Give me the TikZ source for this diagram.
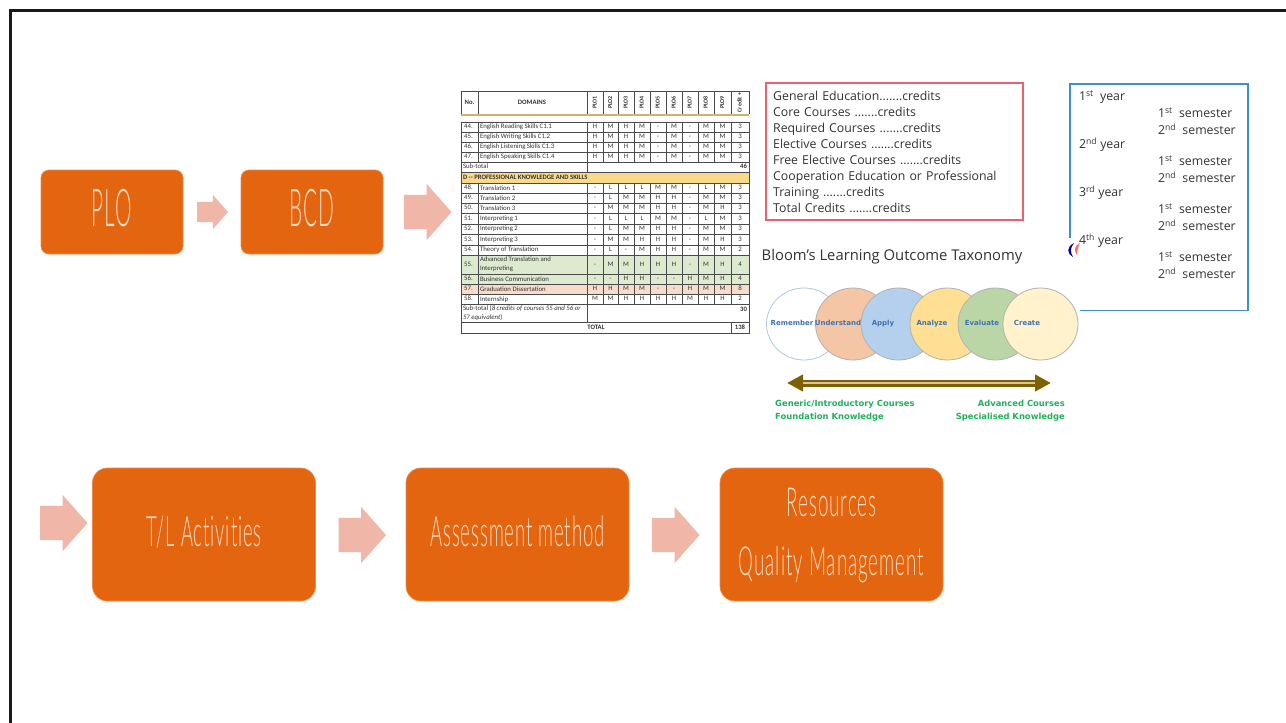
\documentclass[tikz,border=0pt]{standalone}
\usepackage{fontspec}
\usetikzlibrary{shapes.arrows,shapes.geometric,arrows.meta}
\setmainfont{Open Sans}
\newfontfamily\thinf[FakeStretch=0.40,LetterSpace=2,Ligatures=NoCommon]{Lato Light}
\newfontfamily\thinb[FakeStretch=0.47,LetterSpace=2.5,Ligatures=NoCommon]{Lato Light}
\newfontfamily\thinc[FakeStretch=0.44,LetterSpace=2.2,Ligatures=NoCommon]{Lato Light}
\newfontfamily\calf{Carlito}
\newfontfamily\verf{DejaVu Sans}
\definecolor{boxorange}{HTML}{E4650F}
\definecolor{boxedge}{HTML}{EE8A4A}
\definecolor{boxtext}{HTML}{FBDCC4}
\definecolor{arrowpink}{HTML}{F0B7A8}
\definecolor{tline}{HTML}{4A4A4A}
\definecolor{ttext}{HTML}{333333}
\definecolor{tgold}{HTML}{FBD98A}
\definecolor{tgoldline}{HTML}{CDB565}
\definecolor{tgreen}{HTML}{DCEBD0}
\definecolor{tpink}{HTML}{F8DCCB}
\definecolor{redbox}{HTML}{E8636F}
\definecolor{bluebox}{HTML}{3F8FCB}
\definecolor{bodytext}{HTML}{333333}
\definecolor{bloomblue}{HTML}{3F74B0}
\definecolor{bloomgreen}{HTML}{22B15C}
\definecolor{brownarrow}{HTML}{7F6000}
\definecolor{tanline}{HTML}{D8C898}
\newcommand{\flowtxt}[2]{\raisebox{#1pt}[0pt][0pt]{#2}}
\tikzset{
  flowbox/.style={draw=boxedge,line width=0.7,fill=boxorange,text=boxtext,inner sep=0,outer sep=0,align=center},
  smallbox/.style={flowbox,rounded corners=8,minimum width=142,minimum height=84,font=\thinf\fontsize{52}{52}\selectfont},
  bigbox/.style={flowbox,rounded corners=15,minimum width=223,minimum height=133,font=\thinc\fontsize{42}{42}\selectfont},
  blockarrow/.style={single arrow,fill=arrowpink,inner sep=0,outer sep=0,anchor=tail,single arrow head indent=0,single arrow tip angle=97,text depth=0pt},
  arrowsmall/.style={blockarrow,text height=20pt,minimum width=34,minimum height=31,single arrow head extend=7},
  arrowbig/.style={blockarrow,text height=34pt,minimum width=56,minimum height=47.5,single arrow head extend=11},
  mcell/.style={font=\calf\fontsize{6.8}{9}\selectfont,text=ttext,inner sep=0,outer sep=0,align=left},
  cell/.style={font=\calf\fontsize{6.8}{8}\selectfont,text=ttext,inner sep=0,outer sep=0,text height=4.4pt,text depth=1.2pt},
  bcell/.style={cell,font=\calf\bfseries\fontsize{6.7}{8}\selectfont},
  tblline/.style={draw=tline,line width=1},
  cred/.style={font=\fontsize{12.3}{16}\selectfont,text=bodytext,inner sep=0,outer sep=0},
  bloomc/.style={ellipse,draw=#1,line width=0.8,minimum width=75,minimum height=72,inner sep=0,outer sep=0},
  bloomlabel/.style={font=\verf\bfseries\fontsize{7}{9}\selectfont,text=bloomblue,inner sep=0,text height=5.2pt,text depth=1.4pt},
  greenlabel/.style={font=\verf\bfseries\fontsize{8.4}{13}\selectfont,text=bloomgreen,inner sep=0}
}
\def\colx{{595,610.5,626,642,658,674,690,706,722.5,740}}
\newcommand{\tverts}[2]{%
  \foreach \vx in {461,478,587,603,618,634,650,666,682,698,714,731,749}{\draw[tblline] (\vx,#1) -- (\vx,#2);}
  \draw[tblline] (461,#1) -- (749,#1) (461,#2) -- (749,#2);}
\newcommand{\trow}[6]{%
  \fill[#3] (461,#1) rectangle (749,#2);
  \tverts{#1}{#2}
  \node[cell] (no#4) at (468.5,{(#1+#2)/2}) {#4.};
  \node[mcell,anchor=west] (dom#4) at (480,{(#1+#2)/2}) {#5};
  \foreach \v [count=\i] in {#6}{
    \pgfmathsetmacro\cx{\colx[\i-1]}
    \node[cell] (v#4c\i) at (\cx,{(#1+#2)/2}) {\v};
  }}
\begin{document}
\begin{tikzpicture}[x=1pt,y=-1pt]
\useasboundingbox (0,0) rectangle (1286,723);
\fill[white] (0,0) rectangle (1286,723);
\draw[line width=3,color=black!90] (10.5,723) -- (10.5,10.5) -- (1286,10.5);

% flow row 1
\node[smallbox] (plo) at (112,212) {\flowtxt{-14}{PLO}};
\node[smallbox] (bcd) at (312,212) {\flowtxt{-14}{BCD}};
\node[arrowsmall] (a1) at (197,212) {};
\node[arrowbig] (a2) at (404,212) {};

% flow row 2
\node[bigbox] (tl) at (204,534.5) {\flowtxt{-12}{T/L Activities}};
\node[bigbox] (am) at (517.5,534.5) {\flowtxt{-12}{Assessment method}};
\node[bigbox,font=\thinb\fontsize{40}{59}\selectfont] (rq) at (831.5,534.5) {\flowtxt{-11.7}{Resources}\\\flowtxt{-11.7}{Quality Management}};
\node[arrowbig] (a3) at (40,523) {};
\node[arrowbig] (a4) at (338.5,535) {};
\node[arrowbig] (a5) at (652,535) {};

% table
\tverts{91}{114}
\draw[draw=tgoldline,line width=1.6] (461,115) -- (749,115);
\node[bcell] (hno) at (469.5,102.5) {No.};
\node[bcell] (hdom) at (532,102.5) {DOMAINS};
\foreach \v [count=\i] in {PLO1,PLO2,PLO3,PLO4,PLO5,PLO6,PLO7,PLO8,PLO9,Credit +}{
  \pgfmathsetmacro\cx{\colx[\i-1]}
  \node[bcell,rotate=90,font=\calf\bfseries\fontsize{6}{7}\selectfont] (h\i) at (\cx,102.5) {\v};
}
\trow{122}{132}{white}{44}{English Reading Skills C1.1}{H,M,H,M,-,M,-,M,M,3}
\trow{132}{142}{white}{45}{English Writing Skills C1.2}{H,M,H,M,-,M,-,M,M,3}
\trow{142}{152}{white}{46}{English Listening Skills C1.3}{H,M,H,M,-,M,-,M,M,3}
\trow{152}{162}{white}{47}{English Speaking Skills C1.4}{H,M,H,M,-,M,-,M,M,3}
\draw[tblline] (461,162) rectangle (749,172) (587,162) -- (587,172);
\node[cell,anchor=west] (sub1) at (463,167) {Sub-total};
\node[bcell,anchor=east] (sub1v) at (747,167) {46};
\fill[tgold] (461,172) rectangle (749,183);
\draw[tblline] (461,172) rectangle (749,183);
\node[bcell,anchor=west] (dhead) at (463,177.5) {D -- PROFESSIONAL KNOWLEDGE AND SKILLS};
\trow{183}{193}{white}{48}{Translation 1}{-,L,L,L,M,M,-,L,M,3}
\trow{193}{203}{white}{49}{Translation 2}{-,L,M,M,H,H,-,M,M,3}
\trow{203}{213.5}{white}{50}{Translation 3}{-,M,M,M,H,H,-,M,H,3}
\trow{213.5}{224}{white}{51}{Interpreting 1}{-,L,L,L,M,M,-,L,M,3}
\trow{224}{234}{white}{52}{Interpreting 2}{-,L,M,M,H,H,-,M,M,3}
\trow{234}{245}{white}{53}{Interpreting 3}{-,M,M,H,H,H,-,M,H,3}
\trow{245}{255}{white}{54}{Theory of Translation}{-,L,-,M,H,H,-,M,M,2}
\trow{255}{274}{tgreen}{55}{Advanced Translation and\\Interpreting}{-,M,M,H,H,H,-,M,H,4}
\trow{274}{284}{tgreen}{56}{Business Communication}{-,-,H,H,-,-,H,M,H,4}
\trow{284}{294}{tpink}{57}{Graduation Dissertation}{H,H,M,M,-,-,H,M,M,8}
\trow{294}{304.5}{white}{58}{Internship}{M,M,H,H,H,H,M,H,H,2}
\draw[tblline] (461,304.5) rectangle (749,322) (587,304.5) -- (587,322);
\node[mcell,anchor=west] (sub2) at (463,313) {Sub-total (\textit{8 credits of courses 55 and 56 or}\\\textit{57 equivalent})};
\node[bcell,anchor=east] (sub2v) at (747,310) {30};
\draw[tblline] (461,322) rectangle (749,333) (731,322) -- (731,333);
\node[bcell] (total) at (596,327.5) {TOTAL};
\node[bcell] (totalv) at (740,327.5) {138};

% credits box
\node[draw=redbox,line width=1.5,minimum width=257,minimum height=137,text width=243,inner sep=0,cred,align=left] (credits) at (894.7,151.5) {General Education.......credits\\Core Courses .......credits\\Required Courses .......credits\\Elective Courses .......credits\\Free Elective Courses .......credits\\Cooperation Education or Professional\\Training .......credits\\Total Credits .......credits};

% year box
\draw[bluebox,line width=1.5] (1070,238) -- (1070,84) -- (1248,84) -- (1248,310.5) -- (1080,310.5);
\node[cred,anchor=west] (y1) at (1079,97) {1\textsuperscript{st}\ \ year};
\node[cred,anchor=west] (y2) at (1079,145) {2\textsuperscript{nd} year};
\node[cred,anchor=west] (y3) at (1079,193) {3\textsuperscript{rd} year};
\node[cred,anchor=west] (y4) at (1079,241) {4\textsuperscript{th} year};
\foreach \yy/\tag in {113/a,161/b,209/c,257/d}{
  \node[cred,anchor=west] (s1\tag) at (1158,\yy) {1\textsuperscript{st}\ \ semester};
}
\foreach \yy/\tag in {129/a,177/b,225/c,273/d}{
  \node[cred,anchor=west] (s2\tag) at (1158,\yy) {2\textsuperscript{nd}\ \ semester};
}
% logo fragment
\fill[blue!55!black] (1074,243) .. controls (1066,247) and (1067,254) .. (1073,257) .. controls (1070,252) and (1070,248) .. (1074,243);
\fill[red!60!white] (1080,243) .. controls (1074,246) and (1074,251) .. (1077,255) .. controls (1077,251) and (1078,247) .. (1080,243);

% Bloom
\node[font=\fontsize{14.8}{16}\selectfont,text=bodytext,inner sep=0] (bloom) at (892,256.5) {Bloom’s Learning Outcome Taxonomy};
\node[bloomc=bloomblue!40!white,fill=white] (c1) at (804,324) {};
\node[bloomc=black!30,fill={rgb,255:red,245;green,198;blue,165}] (c2) at (853,324) {};
\node[bloomc=black!30,fill={rgb,255:red,181;green,208;blue,236}] (c3) at (898.5,324) {};
\node[bloomc=black!30,fill={rgb,255:red,255;green,223;blue,148}] (c4) at (947.5,324) {};
\node[bloomc=black!30,fill={rgb,255:red,187;green,214;blue,166}] (c5) at (995.5,324) {};
\node[bloomc=black!30,fill={rgb,255:red,255;green,242;blue,204}] (c6) at (1040.5,324) {};
\node[bloomlabel] (l1) at (792,324) {Remember};
\node[bloomlabel] (l2) at (838,324) {Understand};
\node[bloomlabel] (l3) at (883,324) {Apply};
\node[bloomlabel] (l4) at (932,324) {Analyze};
\node[bloomlabel] (l5) at (982,324) {Evaluate};
\node[bloomlabel] (l6) at (1027,324) {Create};

\coordinate (dl) at (787,383);
\coordinate (dr) at (1051,383);
\draw[brownarrow,line width=7,{Triangle[length=16,width=16]}-{Triangle[length=16,width=16]}] (dl) -- (dr);
\draw[tanline,line width=1.5,shorten <=16,shorten >=16] (dl) -- (dr);

\node[greenlabel,anchor=west,align=left] (gl) at (775,410.5) {Generic/Introductory Courses\\Foundation Knowledge};
\node[greenlabel,anchor=east,align=right] (gr) at (1065,410.5) {Advanced Courses\\Specialised Knowledge};
\end{tikzpicture}
\end{document}
